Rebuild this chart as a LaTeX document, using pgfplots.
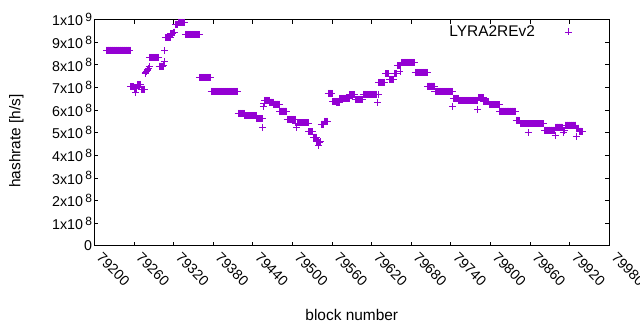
\documentclass[border=0pt]{standalone}
\usepackage{pgfplots}
\pgfplotsset{compat=1.18}
\usepackage{fontspec}
\setmainfont{Liberation Sans}
\definecolor{gpviolet}{RGB}{148,0,211}
\newcommand{\sci}[2]{#1x10\,\raisebox{0.55ex}{\fontsize{12}{13}\selectfont #2}}
\begin{document}
\begin{tikzpicture}[font=\fontsize{15.5}{18}\selectfont]
\path[use as bounding box] (-94.3bp,-84.3bp) rectangle (545.7bp,245.7bp);
\begin{axis}[
  scale only axis, width=515bp, height=226bp,
  at={(0,0)}, anchor=south west,
  xmin=79200, xmax=79980, ymin=0, ymax=10,
  xtick={79200,79260,...,79980},
  scaled x ticks=false,
  ytick={0,1,2,3,4,5,6,7,8,9,10},
  yticklabels={0,\sci{1}{8},\sci{2}{8},\sci{3}{8},\sci{4}{8},\sci{5}{8},\sci{6}{8},\sci{7}{8},\sci{8}{8},\sci{9}{8},\sci{1}{9}},
  axis line style={line width=0.8bp},
  every tick/.style={black, line width=0.8bp},
  major tick length=4bp,
  tick align=inside,
  /pgf/number format/assume math mode=true,
  /pgf/number format/1000 sep={},
  tick label style={font=\fontsize{14.3}{16}\selectfont},
  xticklabel style={xshift=4.5bp, yshift=-9bp, rotate=-45, anchor=west, inner sep=0.5bp},
  yticklabel style={inner sep=2bp},
  xlabel={block number}, ylabel={hashrate [h/s]},
  xlabel style={at={(axis description cs:0.5,-0.305)}, anchor=center},
  ylabel style={at={(axis description cs:-0.1515,0.463)}, anchor=center},
  legend plot pos=right,
  legend style={draw=none, fill=none, at={(axis description cs:0.982,0.9456)}, anchor=east, inner sep=0pt},
  legend image code/.code={\path (0bp,0bp) (62bp,0bp); \draw[mark repeat=2,mark phase=2,#1] plot coordinates {(0bp,0bp) (31bp,0bp) (62bp,0bp)};},
]
\addplot[only marks, mark=+, mark size=3.5bp, line width=0.9bp, color=gpviolet] coordinates {
(79219,8.65)(79220,8.65)(79221,8.65)(79222,8.65)(79223,8.65)(79224,8.65)(79225,8.65)(79226,8.65)(79227,8.65)(79228,8.65)(79229,8.65)(79230,8.65)(79231,8.65)(79232,8.65)(79233,8.65)(79234,8.65)(79235,8.65)(79236,8.65)
(79237,8.65)(79238,8.65)(79239,8.65)(79240,8.65)(79241,8.65)(79242,8.65)(79243,8.65)(79244,8.65)(79245,8.65)(79246,8.65)(79247,8.65)(79248,8.65)(79249,8.65)(79250,8.65)(79251,8.65)(79252,8.65)(79253,8.65)(79254,8.65)
(79255,7.04)(79256,7.04)(79257,7.04)(79258,7.04)(79259,7.04)(79260,7.04)
(79261,6.95)(79262,6.97)(79263,6.80)(79264,6.96)
(79265,7.12)(79266,7.12)(79267,7.12)(79268,7.12)(79269,7.12)(79270,7.12)
(79271,6.93)(79272,6.93)(79273,6.93)(79274,6.93)(79275,6.93)(79276,6.93)
(79277,7.60)(79278,7.66)(79279,7.72)(79280,7.76)(79281,7.80)(79282,7.85)(79283,7.95)(79284,8.33)
(79285,8.33)(79286,8.33)(79287,8.33)(79288,8.33)(79289,8.33)(79290,8.33)(79291,8.33)(79292,8.33)(79293,8.33)(79294,8.33)(79295,8.33)(79296,8.33)(79297,8.33)
(79298,7.95)(79299,7.95)(79300,7.95)(79301,7.95)(79302,7.95)(79303,7.95)(79304,7.95)
(79305,7.98)(79306,8.14)(79307,8.62)(79308,9.21)
(79309,9.21)(79310,9.21)(79311,9.21)(79312,9.21)(79313,9.21)(79314,9.21)(79315,9.21)
(79316,9.37)(79317,9.37)(79318,9.37)(79319,9.37)
(79320,9.45)(79321,9.45)(79322,9.45)
(79323,9.80)(79324,9.80)(79325,9.80)(79326,9.80)
(79327,9.88)(79328,9.88)(79329,9.88)(79330,9.88)(79331,9.88)(79332,9.88)(79333,9.88)(79334,9.88)(79335,9.88)(79336,9.88)(79337,9.88)
(79338,9.35)(79339,9.35)(79340,9.35)(79341,9.35)(79342,9.35)(79343,9.35)(79344,9.35)(79345,9.35)(79346,9.35)(79347,9.35)(79348,9.35)
(79349,9.35)(79350,9.35)(79351,9.35)(79352,9.35)(79353,9.35)(79354,9.35)(79355,9.35)(79356,9.35)(79357,9.35)(79358,9.35)(79359,9.35)
(79360,7.45)(79361,7.45)(79362,7.45)(79363,7.45)(79364,7.45)(79365,7.45)(79366,7.45)(79367,7.45)(79368,7.45)(79369,7.45)(79370,7.45)(79371,7.45)(79372,7.45)(79373,7.45)(79374,7.45)(79375,7.45)(79376,7.45)
(79377,6.83)(79378,6.83)(79379,6.83)(79380,6.83)(79381,6.83)(79382,6.83)(79383,6.83)(79384,6.83)(79385,6.83)(79386,6.83)(79387,6.83)(79388,6.83)(79389,6.83)(79390,6.83)
(79391,6.83)(79392,6.83)(79393,6.83)(79394,6.83)(79395,6.83)(79396,6.83)(79397,6.83)(79398,6.83)(79399,6.83)(79400,6.83)(79401,6.83)(79402,6.83)(79403,6.83)(79404,6.83)
(79405,6.83)(79406,6.83)(79407,6.83)(79408,6.83)(79409,6.83)(79410,6.83)(79411,6.83)(79412,6.83)(79413,6.83)(79414,6.83)(79415,6.83)(79416,6.83)(79417,6.83)
(79418,5.86)(79419,5.86)(79420,5.86)(79421,5.86)(79422,5.86)(79423,5.86)(79424,5.86)(79425,5.86)(79426,5.86)(79427,5.86)
(79428,5.76)(79429,5.76)(79430,5.76)(79431,5.76)(79432,5.76)(79433,5.76)(79434,5.76)(79435,5.76)(79436,5.76)(79437,5.76)(79438,5.76)(79439,5.76)(79440,5.76)(79441,5.76)(79442,5.76)(79443,5.76)(79444,5.76)(79445,5.76)
(79446,5.62)(79447,5.62)(79448,5.62)(79449,5.62)(79450,5.62)(79451,5.62)(79452,5.62)(79453,5.62)(79454,5.62)
(79455,5.25)(79456,6.17)(79457,6.28)
(79458,6.43)(79459,6.43)(79460,6.43)(79461,6.43)(79462,6.43)(79463,6.43)(79464,6.43)(79465,6.43)
(79466,6.35)(79467,6.35)(79468,6.35)(79469,6.35)(79470,6.35)(79471,6.35)
(79472,6.26)(79473,6.26)(79474,6.26)(79475,6.26)(79476,6.26)(79477,6.26)(79478,6.26)(79479,6.26)(79480,6.26)
(79481,5.95)(79482,5.95)(79483,5.95)(79484,5.95)(79485,5.95)(79486,5.95)(79487,5.95)(79488,5.95)(79489,5.95)(79490,5.95)(79491,5.95)
(79492,5.59)(79493,5.59)(79494,5.59)(79495,5.59)(79496,5.59)(79497,5.59)(79498,5.59)(79499,5.59)(79500,5.59)(79501,5.59)(79502,5.59)(79503,5.59)(79504,5.59)
(79505,5.43)(79506,5.22)
(79507,5.43)(79508,5.43)(79509,5.43)(79510,5.43)(79511,5.43)(79512,5.43)(79513,5.43)(79514,5.43)(79515,5.43)(79516,5.43)(79517,5.43)(79518,5.43)(79519,5.43)(79520,5.43)(79521,5.43)(79522,5.43)(79523,5.43)(79524,5.43)
(79525,5.04)(79526,5.04)(79527,5.04)(79528,5.04)(79529,5.04)(79530,5.04)(79531,5.04)
(79532,4.80)(79533,4.80)(79534,4.80)(79535,4.80)(79536,4.80)
(79537,4.60)(79538,4.60)(79539,4.60)(79540,4.42)(79541,4.57)(79542,4.60)(79543,4.60)
(79544,5.38)(79545,5.38)(79546,5.38)(79547,5.38)
(79548,5.50)(79549,5.50)(79550,5.50)(79551,5.50)(79552,5.50)(79553,5.50)
(79554,6.74)(79555,6.74)(79556,6.74)(79557,6.74)(79558,6.74)(79559,6.74)(79560,6.74)
(79561,6.38)(79562,6.38)(79563,6.38)(79564,6.38)(79565,6.38)(79566,6.38)
(79567,6.32)(79568,6.32)(79569,6.32)(79570,6.32)(79571,6.32)
(79572,6.52)(79573,6.52)(79574,6.52)(79575,6.52)(79576,6.52)(79577,6.52)(79578,6.52)(79579,6.52)(79580,6.52)(79581,6.52)(79582,6.52)(79583,6.52)(79584,6.52)(79585,6.52)(79586,6.52)
(79587,6.69)(79588,6.69)(79589,6.69)(79590,6.69)(79591,6.69)(79592,6.69)(79593,6.69)(79594,6.69)
(79595,6.48)(79596,6.48)(79597,6.48)(79598,6.48)(79599,6.48)(79600,6.48)(79601,6.48)(79602,6.48)(79603,6.48)(79604,6.48)(79605,6.48)(79606,6.48)
(79607,6.70)(79608,6.70)(79609,6.70)(79610,6.70)(79611,6.70)(79612,6.70)(79613,6.70)(79614,6.70)(79615,6.70)(79616,6.70)(79617,6.70)
(79618,6.70)(79619,6.70)(79620,6.70)(79621,6.70)(79622,6.70)(79623,6.70)(79624,6.70)(79625,6.70)(79626,6.70)(79627,6.70)(79628,6.70)
(79629,6.34)(79630,6.70)
(79631,7.23)(79632,7.23)(79633,7.23)(79634,7.23)(79635,7.23)(79636,7.23)(79637,7.23)(79638,7.23)(79639,7.23)(79640,7.23)
(79641,7.60)(79642,7.60)(79643,7.60)(79644,7.60)(79645,7.60)(79646,7.60)
(79647,7.36)(79648,7.36)(79649,7.36)(79650,7.36)(79651,7.36)(79652,7.36)(79653,7.36)
(79654,7.60)(79655,7.60)(79656,7.60)(79657,7.60)(79658,7.60)
(79659,7.96)(79660,7.96)(79661,7.96)(79662,7.96)(79663,7.70)(79664,7.96)
(79665,8.11)(79666,8.11)(79667,8.11)(79668,8.11)(79669,8.11)(79670,8.11)(79671,8.11)(79672,8.11)(79673,8.11)(79674,8.11)(79675,8.11)
(79676,8.11)(79677,8.11)(79678,8.11)(79679,8.11)(79680,8.11)(79681,8.11)(79682,8.11)(79683,8.11)(79684,8.11)(79685,8.11)
(79686,7.67)(79687,7.67)(79688,7.67)(79689,7.67)(79690,7.67)(79691,7.67)(79692,7.67)(79693,7.67)(79694,7.67)(79695,7.67)
(79696,7.67)(79697,7.67)(79698,7.67)(79699,7.67)(79700,7.67)(79701,7.67)(79702,7.67)(79703,7.67)(79704,7.67)
(79705,7.06)(79706,7.06)(79707,7.06)(79708,7.06)(79709,7.06)(79710,7.06)(79711,7.06)(79712,7.06)(79713,7.06)(79714,7.06)(79715,7.06)
(79716,6.83)(79717,6.83)(79718,6.83)(79719,6.83)(79720,6.83)(79721,6.83)(79722,6.83)(79723,6.83)(79724,6.83)(79725,6.83)(79726,6.83)(79727,6.83)(79728,6.83)(79729,6.83)
(79730,6.83)(79731,6.83)(79732,6.83)(79733,6.83)(79734,6.83)(79735,6.83)(79736,6.83)(79737,6.83)(79738,6.83)(79739,6.83)(79740,6.83)(79741,6.83)(79742,6.83)
(79743,6.17)
(79744,6.52)(79745,6.52)(79746,6.52)(79747,6.52)(79748,6.52)(79749,6.52)(79750,6.52)(79751,6.52)
(79752,6.43)(79753,6.43)(79754,6.43)(79755,6.43)(79756,6.43)(79757,6.43)(79758,6.43)(79759,6.43)(79760,6.43)(79761,6.43)(79762,6.43)(79763,6.43)(79764,6.43)(79765,6.43)(79766,6.43)
(79767,6.43)(79768,6.43)(79769,6.43)(79770,6.43)(79771,6.43)(79772,6.43)(79773,6.43)(79774,6.43)(79775,6.43)(79776,6.43)(79777,6.43)(79778,6.43)(79779,6.43)(79780,6.43)
(79781,6.04)
(79782,6.55)(79783,6.55)(79784,6.55)(79785,6.55)(79786,6.55)(79787,6.55)(79788,6.55)(79789,6.55)
(79790,6.37)(79791,6.37)(79792,6.37)(79793,6.37)(79794,6.37)(79795,6.37)(79796,6.37)(79797,6.37)
(79798,6.23)(79799,6.23)(79800,6.23)(79801,6.23)(79802,6.23)(79803,6.23)(79804,6.23)(79805,6.23)(79806,6.23)(79807,6.23)(79808,6.23)(79809,6.23)(79810,6.23)(79811,6.23)(79812,6.23)(79813,6.23)
(79814,5.95)(79815,5.95)(79816,5.95)(79817,5.95)(79818,5.95)(79819,5.95)(79820,5.95)(79821,5.95)(79822,5.95)(79823,5.95)(79824,5.95)(79825,5.95)(79826,5.95)
(79827,5.95)(79828,5.95)(79829,5.95)(79830,5.95)(79831,5.95)(79832,5.95)(79833,5.95)(79834,5.95)(79835,5.95)(79836,5.95)(79837,5.95)(79838,5.95)
(79839,5.55)(79840,5.55)(79841,5.55)(79842,5.55)(79843,5.55)(79844,5.55)
(79845,5.40)(79846,5.40)(79847,5.40)(79848,5.40)(79849,5.40)(79850,5.40)(79851,5.40)(79852,5.40)(79853,5.40)(79854,5.40)(79855,5.40)(79856,5.40)(79857,5.00)
(79858,5.40)(79859,5.40)(79860,5.40)(79861,5.40)(79862,5.40)(79863,5.40)(79864,5.40)(79865,5.40)(79866,5.40)(79867,5.40)(79868,5.40)(79869,5.40)
(79870,5.40)(79871,5.40)(79872,5.40)(79873,5.40)(79874,5.40)(79875,5.40)(79876,5.40)(79877,5.40)(79878,5.40)(79879,5.40)(79880,5.40)(79881,5.40)
(79882,5.11)(79883,5.11)(79884,5.11)(79885,5.11)(79886,5.11)(79887,5.11)(79888,5.11)(79889,5.11)(79890,5.11)(79891,5.11)(79892,5.11)(79893,5.11)(79894,5.11)(79895,5.11)(79896,5.11)(79897,5.11)
(79898,4.87)
(79899,5.25)(79900,5.25)(79901,5.25)(79902,5.25)(79903,5.25)(79904,5.25)(79905,5.25)(79906,5.25)(79907,5.25)(79908,5.25)(79909,5.25)
(79910,5.00)(79911,5.10)(79912,5.10)
(79913,5.34)(79914,5.34)(79915,5.34)(79916,5.34)(79917,5.34)(79918,5.34)(79919,5.34)(79920,5.34)(79921,5.34)(79922,5.34)(79923,5.34)(79924,5.34)(79925,5.34)(79926,5.34)(79927,5.34)(79928,5.34)(79929,5.34)
(79930,4.85)(79931,5.20)(79932,5.20)(79933,5.20)(79934,5.20)(79935,5.07)(79936,5.07)(79937,5.07)(79938,5.07)(79939,5.04)
};
\addlegendentry{LYRA2REv2}
\end{axis}
\end{tikzpicture}
\end{document}
